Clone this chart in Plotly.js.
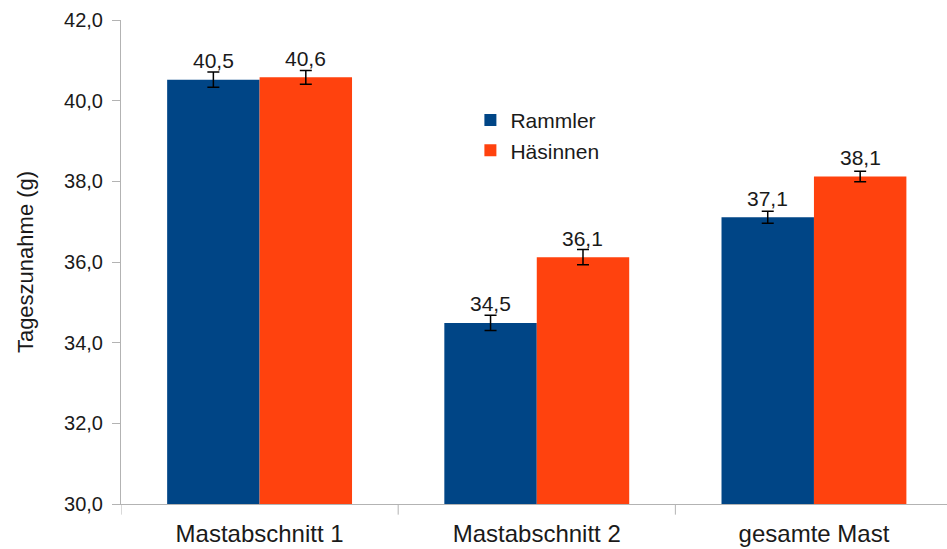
<!DOCTYPE html>
<html>
<head>
<meta charset="utf-8">
<script src="https://cdn.plot.ly/plotly-3.0.1.min.js"></script>
<style>html,body{margin:0;padding:0;background:#fff;}#chart{width:947px;height:549px;}</style>
</head>
<body>
<div id="chart"></div>
<script>
var categories = ["Mastabschnitt 1", "Mastabschnitt 2", "gesamte Mast"];
var seriesNames = ["Rammler", "Häsinnen"];
var rammler = [40.52, 34.49, 37.11];
var haesinnen = [40.58, 36.12, 38.12];
var rammlerErr = [0.19, 0.19, 0.15];
var haesinnenErr = [0.17, 0.19, 0.13];
var yTicks = [30, 32, 34, 36, 38, 40, 42];

var colors = ["#004586", "#ff420e"];
var font = "Liberation Sans, Arial, sans-serif";

function barTrace(name, vals, errs, color) {
  return {
    type: "bar", name: name, x: categories, y: vals,
    marker: {color: color, line: {width: 0}},
    error_y: {type: "data", array: errs, visible: true, color: "#000", thickness: 1.5, width: 6},
    hoverinfo: "skip"
  };
}

var data = [
  barTrace(seriesNames[0], rammler, rammlerErr, colors[0]),
  barTrace(seriesNames[1], haesinnen, haesinnenErr, colors[1])
];

var annotations = [];
[rammler, haesinnen].forEach(function(vals, s) {
  vals.forEach(function(v, i) {
    annotations.push({
      x: i + (s === 0 ? -1/6 : 1/6), y: v, xref: "x", yref: "y",
      text: v.toFixed(1).replace(".", ","), showarrow: false,
      yanchor: "middle", yshift: 19,
      font: {family: font, size: 21, color: "#1a1a1a"}
    });
  });
});

var layout = {
  width: 947, height: 549,
  margin: {l: 121, r: 0, t: 20, b: 45},
  paper_bgcolor: "#fff", plot_bgcolor: "#fff",
  separators: ",.",
  barmode: "group", bargap: 0.333, bargroupgap: 0,
  showlegend: true,
  legend: {x: 0.423, y: 0.835, xanchor: "left", yanchor: "top",
    font: {family: font, size: 21, color: "#1a1a1a"}, bgcolor: "rgba(0,0,0,0)", tracegroupgap: 0},
  xaxis: {
    type: "category", range: [-0.5, 2.48], showgrid: false,
    showline: true, linecolor: "#b3b3b3", linewidth: 1,
    ticks: "", ticklabelstandoff: 8, tickfont: {family: font, size: 24, color: "#1a1a1a"},
    fixedrange: true, automargin: false
  },
  yaxis: {
    range: [30, 42], tickvals: yTicks, tickformat: ".1f", showgrid: false, zeroline: false,
    showline: true, linecolor: "#b3b3b3", linewidth: 1,
    ticks: "outside", ticklen: 8, tickcolor: "#b3b3b3", ticklabelstandoff: 5,
    tickfont: {family: font, size: 20, color: "#1a1a1a"},
    title: {text: "Tageszunahme (g)", font: {family: font, size: 22, color: "#1a1a1a"}, standoff: 24},
    fixedrange: true, automargin: false
  },
  annotations: annotations
};

// category separator ticks below axis
layout.shapes = [0, 1, 2].map(function(k) {
  return {type: "line", xref: "x", yref: "paper", x0: k - 0.5, x1: k - 0.5, y0: 0, y1: -0.022,
    line: {color: "#b3b3b3", width: 1}};
});

Plotly.newPlot("chart", data, layout, {displayModeBar: false, staticPlot: true});
</script>
</body>
</html>
